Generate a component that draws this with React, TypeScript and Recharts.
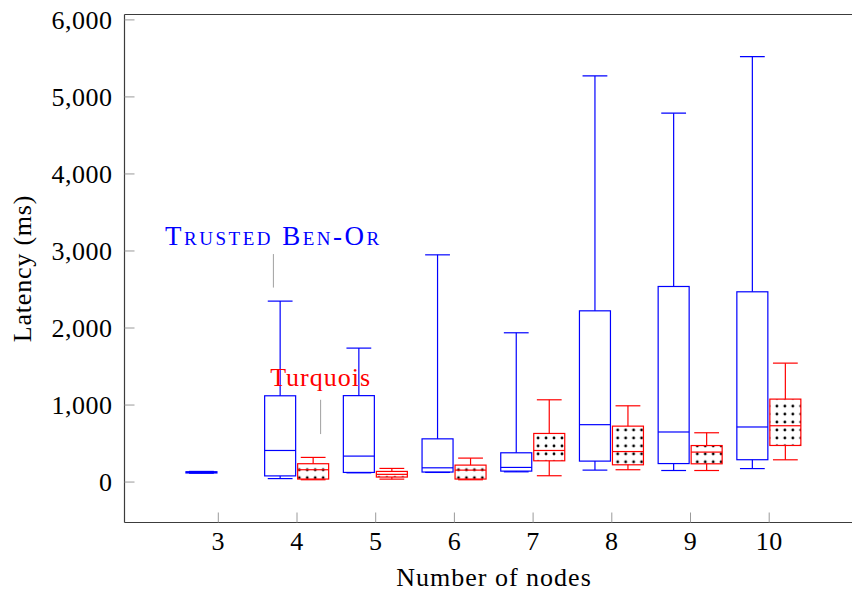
import React from 'react';
import { ComposedChart, Bar, XAxis, YAxis, ReferenceLine, ReferenceDot } from 'recharts';

const FONT = "'Liberation Serif', 'DejaVu Serif', serif";
const BLUE = '#0000ff';
const RED = '#ff0000';
const AXIS = '#3c3c3c';
const TICK = '#9a9a9a';

// categories
const nodeCounts = ['3', '4', '5', '6', '7', '8', '9', '10'];

// Trusted Ben-Or (blue)
const benOrMin = [115, 45, 120, 125, 133, 155, 150, 175];
const benOrQ1 = [118, 80, 125, 130, 142, 272, 240, 290];
const benOrMed = [126, 410, 337, 185, 190, 745, 650, 715];
const benOrQ3 = [134, 1120, 1122, 561, 380, 2223, 2539, 2470];
const benOrMax = [138, 2349, 1739, 2950, 1938, 5273, 4789, 5524];

// Turquois (red) — no run at 3 nodes
const turqMin = [null, 30, 38, 30, 82, 160, 150, 289];
const turqQ1 = [null, 39, 65, 39, 276, 224, 237, 475];
const turqMed = [null, 160, 100, 155, 410, 396, 389, 731];
const turqQ3 = [null, 238, 138, 220, 631, 726, 474, 1077];
const turqMax = [null, 320, 177, 311, 1068, 990, 640, 1544];

// axes
const yTicks = [0, 1000, 2000, 3000, 4000, 5000, 6000];
const yDomain: [number, number] = [-525, 6070];
const xNumDomain: [number, number] = [1.808, 11.16];

// annotations (pins), in data coordinates of the numeric x scale
const annotations = [
  { label: 'Trusted Ben-Or', color: BLUE, x: 3.7, textY: 3080, pinTop: 2960, pinBottom: 2525, smallCaps: true },
  { label: 'Turquois', color: RED, x: 4.3, textY: 1250, pinTop: 1068, pinBottom: 623, smallCaps: false },
];

const data = nodeCounts.map((n, i) => ({
  nodes: n,
  nodeNum: Number(n),
  bMin: benOrMin[i],
  bQ1: benOrQ1[i],
  bMed: benOrMed[i],
  bQ3: benOrQ3[i],
  bMax: benOrMax[i],
  tMin: turqMin[i],
  tQ1: turqQ1[i],
  tMed: turqMed[i],
  tQ3: turqQ3[i],
  tMax: turqMax[i],
}));

type Keys = { min: string; q1: string; med: string; q3: string; max: string };

function makeBoxShape(keys: Keys, color: string, fill: string) {
  return (props: any) => {
    const { x, y, width, height, payload } = props;
    if (!payload || payload[keys.min] == null || !isFinite(y) || !isFinite(height)) return <g />;
    const lo = payload[keys.min];
    const hi = payload[keys.max];
    const top = Math.min(y, y + height);
    const bottom = Math.max(y, y + height);
    const toPx = (v: number) => (hi === lo ? top : bottom - ((bottom - top) * (v - lo)) / (hi - lo));
    const cx = x + width / 2;
    const capHalf = width * 0.4;
    const yQ1 = toPx(payload[keys.q1]);
    const yQ3 = toPx(payload[keys.q3]);
    const yMed = toPx(payload[keys.med]);
    const sw = 1.2;
    return (
      <g>
        <line x1={cx} x2={cx} y1={top} y2={yQ3} stroke={color} strokeWidth={sw} />
        <line x1={cx} x2={cx} y1={yQ1} y2={bottom} stroke={color} strokeWidth={sw} />
        <line x1={cx - capHalf} x2={cx + capHalf} y1={top} y2={top} stroke={color} strokeWidth={sw} />
        <line x1={cx - capHalf} x2={cx + capHalf} y1={bottom} y2={bottom} stroke={color} strokeWidth={sw} />
        <rect x={x} y={yQ3} width={width} height={Math.max(yQ1 - yQ3, 0.5)} fill={fill} stroke={color} strokeWidth={sw} />
        <line x1={x} x2={x + width} y1={yMed} y2={yMed} stroke={color} strokeWidth={sw} />
      </g>
    );
  };
}

const benOrShape = makeBoxShape({ min: 'bMin', q1: 'bQ1', med: 'bMed', q3: 'bQ3', max: 'bMax' }, BLUE, 'none');
const turqShape = makeBoxShape({ min: 'tMin', q1: 'tQ1', med: 'tMed', q3: 'tQ3', max: 'tMax' }, RED, 'url(#dotsPattern)');

const tickStyle = { fill: '#000', fontSize: 26, fontFamily: FONT, letterSpacing: 0.5 };
const catPadding = { left: 54.45, right: 51.95 };

export default function App() {
  return (
    <div
      style={{
        position: 'fixed',
        left: 0,
        top: 0,
        width: 852,
        height: 592,
        overflow: 'hidden',
        background: '#fff',
        fontFamily: FONT,
      }}
    >
      <ComposedChart
        width={900}
        height={592}
        data={data}
        margin={{ top: 0, right: 0, bottom: 0, left: 0 }}
        barSize={31}
        barGap={2}
      >
        <defs>
          <pattern id="dotsPattern" patternUnits="userSpaceOnUse" x={0.8} y={-3.82} width={7.96} height={7.96}>
            <circle cx={3.98} cy={3.98} r={1.4} fill="#000" />
          </pattern>
        </defs>
        <XAxis
          xAxisId="cat"
          dataKey="nodes"
          type="category"
          padding={catPadding}
          height={69.5}
          interval={0}
          tickSize={-10}
          tickMargin={19}
          axisLine={{ stroke: AXIS, strokeWidth: 1.2 }}
          tickLine={{ stroke: TICK, strokeWidth: 1 }}
          tick={tickStyle}
          label={(p: any) => {
            const vb = p.viewBox || {};
            return (
              <text
                x={vb.x + vb.width / 2 + 1.5}
                y={vb.y + vb.height - 6}
                textAnchor="middle"
                fill="#000"
                fontSize={26}
                fontFamily={FONT}
                letterSpacing={1}
              >
                Number of nodes
              </text>
            );
          }}
        />
        <XAxis
          xAxisId="top"
          dataKey="nodes"
          type="category"
          orientation="top"
          padding={catPadding}
          height={14.5}
          interval={0}
          tickSize={-10}
          tick={false}
          axisLine={{ stroke: AXIS, strokeWidth: 1.2 }}
          tickLine={{ stroke: TICK, strokeWidth: 1 }}
        />
        <XAxis xAxisId="num" dataKey="nodeNum" type="number" domain={xNumDomain} allowDataOverflow hide />
        <YAxis
          yAxisId="lat"
          type="number"
          domain={yDomain}
          ticks={yTicks}
          allowDataOverflow
          width={124.5}
          tickSize={-10}
          tickMargin={22}
          interval={0}
          axisLine={{ stroke: AXIS, strokeWidth: 1.2 }}
          tickLine={{ stroke: TICK, strokeWidth: 1 }}
          tick={tickStyle}
          tickFormatter={(v: number) => v.toLocaleString('en-US')}
          label={(p: any) => {
            const vb = p.viewBox || {};
            return (
              <text
                x={0}
                y={0}
                transform={`translate(${vb.x + 31}, ${vb.y + vb.height / 2}) rotate(-90)`}
                textAnchor="middle"
                fill="#000"
                fontSize={26}
                fontFamily={FONT}
                letterSpacing={0.8}
              >
                Latency (ms)
              </text>
            );
          }}
        />
        <YAxis
          yAxisId="right"
          type="number"
          orientation="right"
          domain={yDomain}
          ticks={yTicks}
          allowDataOverflow
          width={39.5}
          tickSize={-10}
          interval={0}
          tick={false}
          axisLine={{ stroke: AXIS, strokeWidth: 1.2 }}
          tickLine={{ stroke: TICK, strokeWidth: 1 }}
        />
        <Bar
          xAxisId="cat"
          yAxisId="lat"
          name="Trusted Ben-Or"
          dataKey={(d: any) => [d.bMin, d.bMax]}
          shape={benOrShape}
          isAnimationActive={false}
        />
        <Bar
          xAxisId="cat"
          yAxisId="lat"
          name="Turquois"
          dataKey={(d: any) => (d.tMin == null ? null : [d.tMin, d.tMax])}
          shape={turqShape}
          isAnimationActive={false}
        />
        {annotations.map((a) => (
          <ReferenceLine
            key={`pin-${a.label}`}
            xAxisId="num"
            yAxisId="lat"
            segment={[
              { x: a.x, y: a.pinBottom },
              { x: a.x, y: a.pinTop },
            ]}
            stroke="#a0a0a0"
            strokeWidth={1}
          />
        ))}
        {annotations.map((a) => (
          <ReferenceDot
            key={`txt-${a.label}`}
            xAxisId="num"
            yAxisId="lat"
            x={a.x}
            y={a.textY}
            r={0}
            shape={(p: any) => (
              <text
                x={p.cx}
                y={p.cy}
                textAnchor="middle"
                fill={a.color}
                fontSize={a.smallCaps ? 27 : 26}
                fontFamily={FONT}
                letterSpacing={a.smallCaps ? 2.5 : 1}
                style={a.smallCaps ? { fontVariant: 'small-caps' } : undefined}
              >
                {a.label}
              </text>
            )}
          />
        ))}
      </ComposedChart>
    </div>
  );
}
